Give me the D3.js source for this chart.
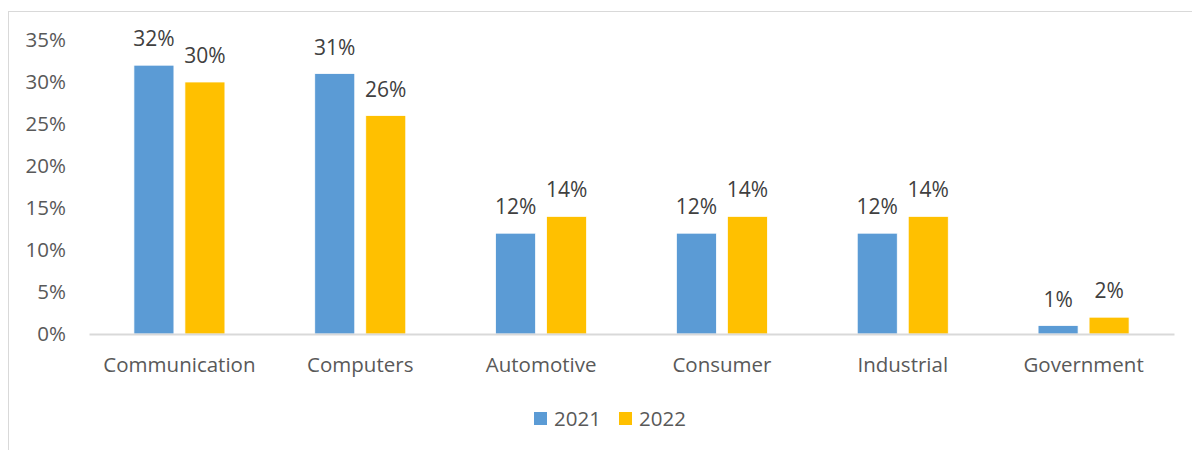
<!DOCTYPE html>
<html>
<head>
<meta charset="utf-8">
<script src="https://cdn.jsdelivr.net/npm/d3@7"></script>
<style>
  html, body { margin: 0; padding: 0; background: #fff; }
  svg { display: block; font-family: "Open Sans", sans-serif; }
</style>
</head>
<body>
<svg id="chart" width="1192" height="450"></svg>
<script>
// Market share by end application, 2021 vs 2022
const categories = ["Communication", "Computers", "Automotive", "Consumer", "Industrial", "Government"];
const seriesNames = ["2021", "2022"];
const values2021 = [32, 31, 12, 12, 12, 1];
const values2022 = [30, 26, 14, 14, 14, 2];
const yTicks = [0, 5, 10, 15, 20, 25, 30, 35];
const colors = ["#5b9bd5", "#ffc000"];

const svg = d3.select("#chart");
const textColor = "#595959";
const fontSize = "20.5px";

// outer frame
svg.append("rect")
  .attr("x", 8.5).attr("y", 11.5)
  .attr("width", 1300).attr("height", 600)
  .attr("fill", "none").attr("stroke", "#d9d9d9").attr("stroke-width", 1);

const plot = { left: 89, right: 1174, top: 40, bottom: 334 };

const x0 = d3.scaleBand().domain(categories).range([plot.left, plot.right]).paddingInner(0).paddingOuter(0);
const y = d3.scaleLinear().domain([0, 35]).range([plot.bottom, plot.top]);

const barW = 40, barGap = 11;
const x1 = d3.scaleOrdinal().domain(seriesNames).range([-barW - barGap / 2, barGap / 2]);

// y axis labels (no line, no ticks)
const yAxis = d3.axisLeft(y).tickValues(yTicks).tickFormat(d => d + "%").tickSize(0).tickPadding(0);
const yg = svg.append("g").attr("transform", `translate(66,0)`).call(yAxis);
yg.select(".domain").remove();
yg.selectAll("text").attr("fill", textColor).style("font-size", fontSize).style("font-family", "Open Sans");

const series = [values2021, values2022];
const groups = svg.append("g").selectAll("g")
  .data(categories)
  .join("g")
  .attr("transform", d => `translate(${x0(d) + x0.bandwidth() / 2},0)`);

groups.selectAll("rect")
  .data((c, i) => seriesNames.map((s, k) => ({ s, k, v: series[k][i] })))
  .join("rect")
  .attr("x", d => x1(d.s))
  .attr("y", d => y(d.v))
  .attr("width", barW)
  .attr("height", d => y(0) - y(d.v))
  .attr("fill", d => colors[d.k])
  .attr("stroke", "#ffffff").attr("stroke-width", 0.75);

groups.selectAll("text.val")
  .data((c, i) => seriesNames.map((s, k) => ({ s, k, v: series[k][i] })))
  .join("text")
  .attr("class", "val")
  .attr("x", d => x1(d.s) + barW / 2)
  .attr("y", d => y(d.v) - 19)
  .attr("text-anchor", "middle")
  .attr("fill", "#404040")
  .style("font-size", "21px")
  .text(d => d.v + "%");

// x axis baseline and category labels
const xAxis = d3.axisBottom(x0).tickSize(0).tickPadding(0);
const xg = svg.append("g").attr("transform", `translate(0,${plot.bottom})`).call(xAxis);
xg.select(".domain").attr("stroke", "#d9d9d9").attr("stroke-width", 2);
xg.selectAll("text").attr("fill", textColor).style("font-size", fontSize).style("font-family", "Open Sans")
  .attr("dy", 0).attr("y", 38);

// legend
const legend = svg.append("g").attr("transform", "translate(534,412)");
const legX = [0, 85];
seriesNames.forEach((s, k) => {
  const g = legend.append("g").attr("transform", `translate(${legX[k]},0)`);
  g.append("rect").attr("width", 13).attr("height", 13).attr("fill", colors[k]);
  g.append("text").attr("x", 20).attr("y", 13.5).attr("fill", textColor).style("font-size", fontSize).text(s);
});
</script>
</body>
</html>
